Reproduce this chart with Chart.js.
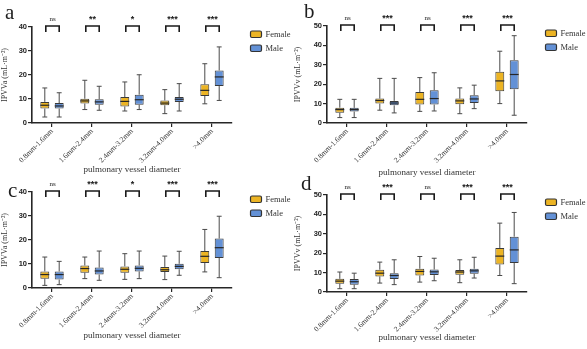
<!DOCTYPE html>
<html>
<head>
<meta charset="utf-8">
<script src="https://cdn.jsdelivr.net/npm/chart.js@4.4.1/dist/chart.umd.min.js"></script>
<style>
  body { margin: 0; background: #fff; width: 587px; height: 349px; overflow: hidden; position: relative; }
  canvas { position: absolute; }
  .letter { position: absolute; font-family: "Liberation Serif", serif; font-size: 21px; line-height: 1; color: #1e1e1e; }
</style>
</head>
<body>
<canvas id="chartA" width="293" height="176" style="left:0;top:0"></canvas>
<canvas id="chartB" width="294" height="178" style="left:293px;top:0"></canvas>
<canvas id="chartC" width="293" height="173" style="left:0;top:176px"></canvas>
<canvas id="chartD" width="294" height="171" style="left:293px;top:178px"></canvas>
<div class="letter" style="left:5px;top:2px">a</div>
<div class="letter" style="left:304px;top:1px">b</div>
<div class="letter" style="left:8px;top:180px">c</div>
<div class="letter" style="left:301px;top:173px">d</div>
<script>
const categories = ['0.8mm-1.6mm', '1.6mm-2.4mm', '2.4mm-3.2mm', '3.2mm-4.0mm', '>4.0mm'];

// each entry: [min, q1, median, q3, max]
const aFemale = [[2.5, 6, 7.4, 8.8, 14.6], [5.6, 8.1, 9.2, 10.1, 17.8], [5, 6.9, 9, 10.8, 17.1], [3.9, 7.4, 8.3, 9.4, 13.9], [8, 11.3, 13.6, 16.1, 24.7]];
const aMale = [[2.5, 6, 7.1, 8.3, 12.6], [5.3, 7.6, 8.8, 9.9, 15.3], [5.6, 7.6, 9.7, 11.8, 20.1], [5, 8.8, 9.9, 10.8, 16.4], [9.4, 15.4, 19.2, 21.9, 31.7]];
const bFemale = [[2.8, 5.3, 6.9, 7.9, 12.2], [6.6, 10, 11.6, 12.6, 23], [6, 9.5, 12.2, 16, 23.4], [4.8, 9.7, 11.4, 12.6, 18.1], [10, 16.4, 21.7, 26.4, 37]];
const bMale = [[2.8, 5.9, 6.9, 7.8, 12.2], [5.2, 9.1, 10.3, 11.4, 23], [6.2, 9.5, 12.6, 16.9, 25.9], [7.4, 10.3, 12.4, 14.3, 19.5], [4, 17.4, 25, 32.4, 45]];
const cFemale = [[1.1, 3.9, 5.6, 6.9, 12.9], [3.9, 6.4, 8.1, 9.4, 12.9], [3.6, 6.4, 7.8, 9, 14.3], [3.5, 6.7, 7.6, 8.8, 13.3], [6.7, 10.4, 13.2, 15.4, 24.4]];
const cMale = [[1.4, 3.5, 5.6, 6.9, 11.1], [3.2, 5.6, 7.1, 8.5, 15.4], [3.9, 6.9, 8.2, 9.4, 15.4], [5.3, 7.8, 9, 10.1, 15.3], [4.3, 12.5, 16.8, 20.6, 29.9]];
const dFemale = [[1.7, 4.3, 5.6, 6.8, 10.3], [4.6, 8, 9.7, 11.5, 15.4], [5.1, 8.5, 10.6, 12, 18.3], [4.8, 8.9, 10.3, 11.3, 16.6], [8.5, 14.2, 18.5, 22.7, 35.5]];
const dMale = [[1.7, 3.8, 5.3, 6.7, 9.7], [3.8, 6.7, 8.5, 9.7, 16.6], [5.8, 8.7, 10.4, 11.6, 17.4], [7.2, 9.4, 10.9, 12, 17.9], [4.3, 15, 21.7, 28.5, 41]];

const aSig = ['ns', '**', '*', '***', '***'];
const bSig = ['ns', '***', 'ns', '***', '***'];
const cSig = ['ns', '***', '*', '***', '***'];
const dSig = ['ns', '***', 'ns', '***', '***'];

const femaleColor = '#ecb424';
const maleColor = '#6391d6';
const inkColor = '#262626';

// whiskers, medians, significance brackets and legend
const boxPlotExtras = {
    id: 'boxPlotExtras',
    afterDatasetsDraw(chart) {
        const ctx = chart.ctx;
        const yScale = chart.scales.y;
        const yMax = yScale.max;
        ctx.save();
        chart.data.datasets.forEach((ds, i) => {
            chart.getDatasetMeta(i).data.forEach((bar, j) => {
                const s = ds.stats[j];
                const x = bar.x, half = bar.width / 2;
                ctx.strokeStyle = '#4a4a4a';
                ctx.lineWidth = 1;
                ctx.beginPath();
                ctx.moveTo(x, yScale.getPixelForValue(s[3]));
                ctx.lineTo(x, yScale.getPixelForValue(s[4]));
                ctx.moveTo(x, yScale.getPixelForValue(s[1]));
                ctx.lineTo(x, yScale.getPixelForValue(s[0]));
                ctx.moveTo(x - half * 0.55, yScale.getPixelForValue(s[4]));
                ctx.lineTo(x + half * 0.55, yScale.getPixelForValue(s[4]));
                ctx.moveTo(x - half * 0.55, yScale.getPixelForValue(s[0]));
                ctx.lineTo(x + half * 0.55, yScale.getPixelForValue(s[0]));
                ctx.stroke();
                ctx.strokeStyle = inkColor;
                ctx.lineWidth = 1.2;
                ctx.beginPath();
                ctx.moveTo(x - half, yScale.getPixelForValue(s[2]));
                ctx.lineTo(x + half, yScale.getPixelForValue(s[2]));
                ctx.stroke();
            });
        });

        const sig = chart.options.plugins.boxPlotExtras.sig;
        const f = chart.getDatasetMeta(0).data, m = chart.getDatasetMeta(1).data;
        sig.forEach((label, j) => {
            const x1 = f[j].x + 1, x2 = m[j].x;
            const top = yScale.getPixelForValue(yMax) - 1;
            const legs = top + 6;
            ctx.strokeStyle = '#1a1a1a';
            ctx.lineWidth = 1.6;
            ctx.beginPath();
            ctx.moveTo(x1, legs);
            ctx.lineTo(x1, top);
            ctx.lineTo(x2, top);
            ctx.lineTo(x2, legs);
            ctx.stroke();
            ctx.fillStyle = '#1a1a1a';
            ctx.textAlign = 'center';
            ctx.textBaseline = 'middle';
            ctx.font = label === 'ns' ? '7px "Liberation Serif"' : 'bold 9px "Liberation Sans"';
            ctx.fillText(label, (x1 + x2) / 2, top - (label === 'ns' ? 7 : 6));
        });

        const area = chart.chartArea;
        chart.data.datasets.forEach((ds, i) => {
            const bx = area.right + 18.5, by = area.top + 4 + i * 14;
            ctx.fillStyle = ds.backgroundColor;
            ctx.strokeStyle = '#333';
            ctx.lineWidth = 1.2;
            ctx.beginPath();
            ctx.roundRect(bx, by, 11, 6.5, 1.5);
            ctx.fill();
            ctx.stroke();
            ctx.fillStyle = '#333';
            ctx.textAlign = 'left';
            ctx.textBaseline = 'middle';
            ctx.font = '8.5px "Liberation Serif"';
            ctx.fillText(ds.label, bx + 15, by + 3.5);
        });
        ctx.restore();
    }
};

function makePanel(id, female, male, sig, yMax, yTitle, box) {
    const canvas = document.getElementById(id);
    const cLeft = parseFloat(canvas.style.left), cTop = parseFloat(canvas.style.top);
    const axisBottom = box.titleY + 5;
    const yWidth = box.left - cLeft;
    const xHeight = axisBottom - box.bottom;

    return new Chart(canvas.getContext('2d'), {
        type: 'bar',
        data: {
            labels: categories,
            datasets: [
                {
                    label: 'Female',
                    data: female.map(s => [s[1], s[3]]),
                    stats: female,
                    backgroundColor: femaleColor,
                    borderColor: '#3a3a3a',
                    borderWidth: 1,
                    borderSkipped: false
                },
                {
                    label: 'Male',
                    data: male.map(s => [s[1], s[3]]),
                    stats: male,
                    backgroundColor: maleColor,
                    borderColor: '#3a3a3a',
                    borderWidth: 1,
                    borderSkipped: false
                }
            ]
        },
        options: {
            responsive: false,
            animation: false,
            barPercentage: 0.62,
            categoryPercentage: 0.72,
            layout: {
                padding: {
                    top: box.top - cTop,
                    left: 0,
                    right: cLeft + canvas.width - box.right,
                    bottom: cTop + canvas.height - axisBottom
                }
            },
            scales: {
                x: {
                    grid: { drawOnChartArea: false, offset: false, tickLength: 4, color: inkColor, lineWidth: 1.2 },
                    border: { color: inkColor, width: 1.6 },
                    ticks: {
                        minRotation: 45,
                        maxRotation: 45,
                        padding: 0,
                        color: '#333',
                        font: { family: 'Liberation Serif', size: 7.5 }
                    },
                    title: {
                        display: true,
                        text: 'pulmonary vessel diameter',
                        color: '#333',
                        padding: 0,
                        font: { family: 'Liberation Serif', size: 9 }
                    },
                    afterFit: s => { s.height = xHeight; }
                },
                y: {
                    min: 0,
                    max: yMax,
                    grid: { drawOnChartArea: false, tickLength: 4, color: inkColor, lineWidth: 1.2 },
                    border: { color: inkColor, width: 1.6 },
                    ticks: {
                        stepSize: 10,
                        padding: 1,
                        color: '#222',
                        font: { family: 'Liberation Sans', size: 7.5, weight: 'bold' }
                    },
                    title: {
                        display: true,
                        text: yTitle,
                        color: '#333',
                        padding: 0,
                        font: { family: 'Liberation Serif', size: 8 }
                    },
                    afterFit: s => { s.width = yWidth; }
                }
            },
            plugins: {
                legend: { display: false },
                tooltip: { enabled: false },
                boxPlotExtras: { sig: sig }
            }
        },
        plugins: [boxPlotExtras]
    });
}

makePanel('chartA', aFemale, aMale, aSig, 40, 'IPVVa (mL·m⁻²)', { left: 32, top: 27, right: 232, bottom: 123, titleY: 170 });
makePanel('chartB', bFemale, bMale, bSig, 50, 'IPVVv (mL·m⁻²)', { left: 327, top: 26, right: 527, bottom: 123, titleY: 173 });
makePanel('chartC', cFemale, cMale, cSig, 40, 'IPVVa (mL·m⁻²)', { left: 32, top: 192, right: 232, bottom: 288, titleY: 336 });
makePanel('chartD', dFemale, dMale, dSig, 50, 'IPVVv (mL·m⁻²)', { left: 327, top: 195, right: 527, bottom: 292, titleY: 338 });
</script>
</body>
</html>
